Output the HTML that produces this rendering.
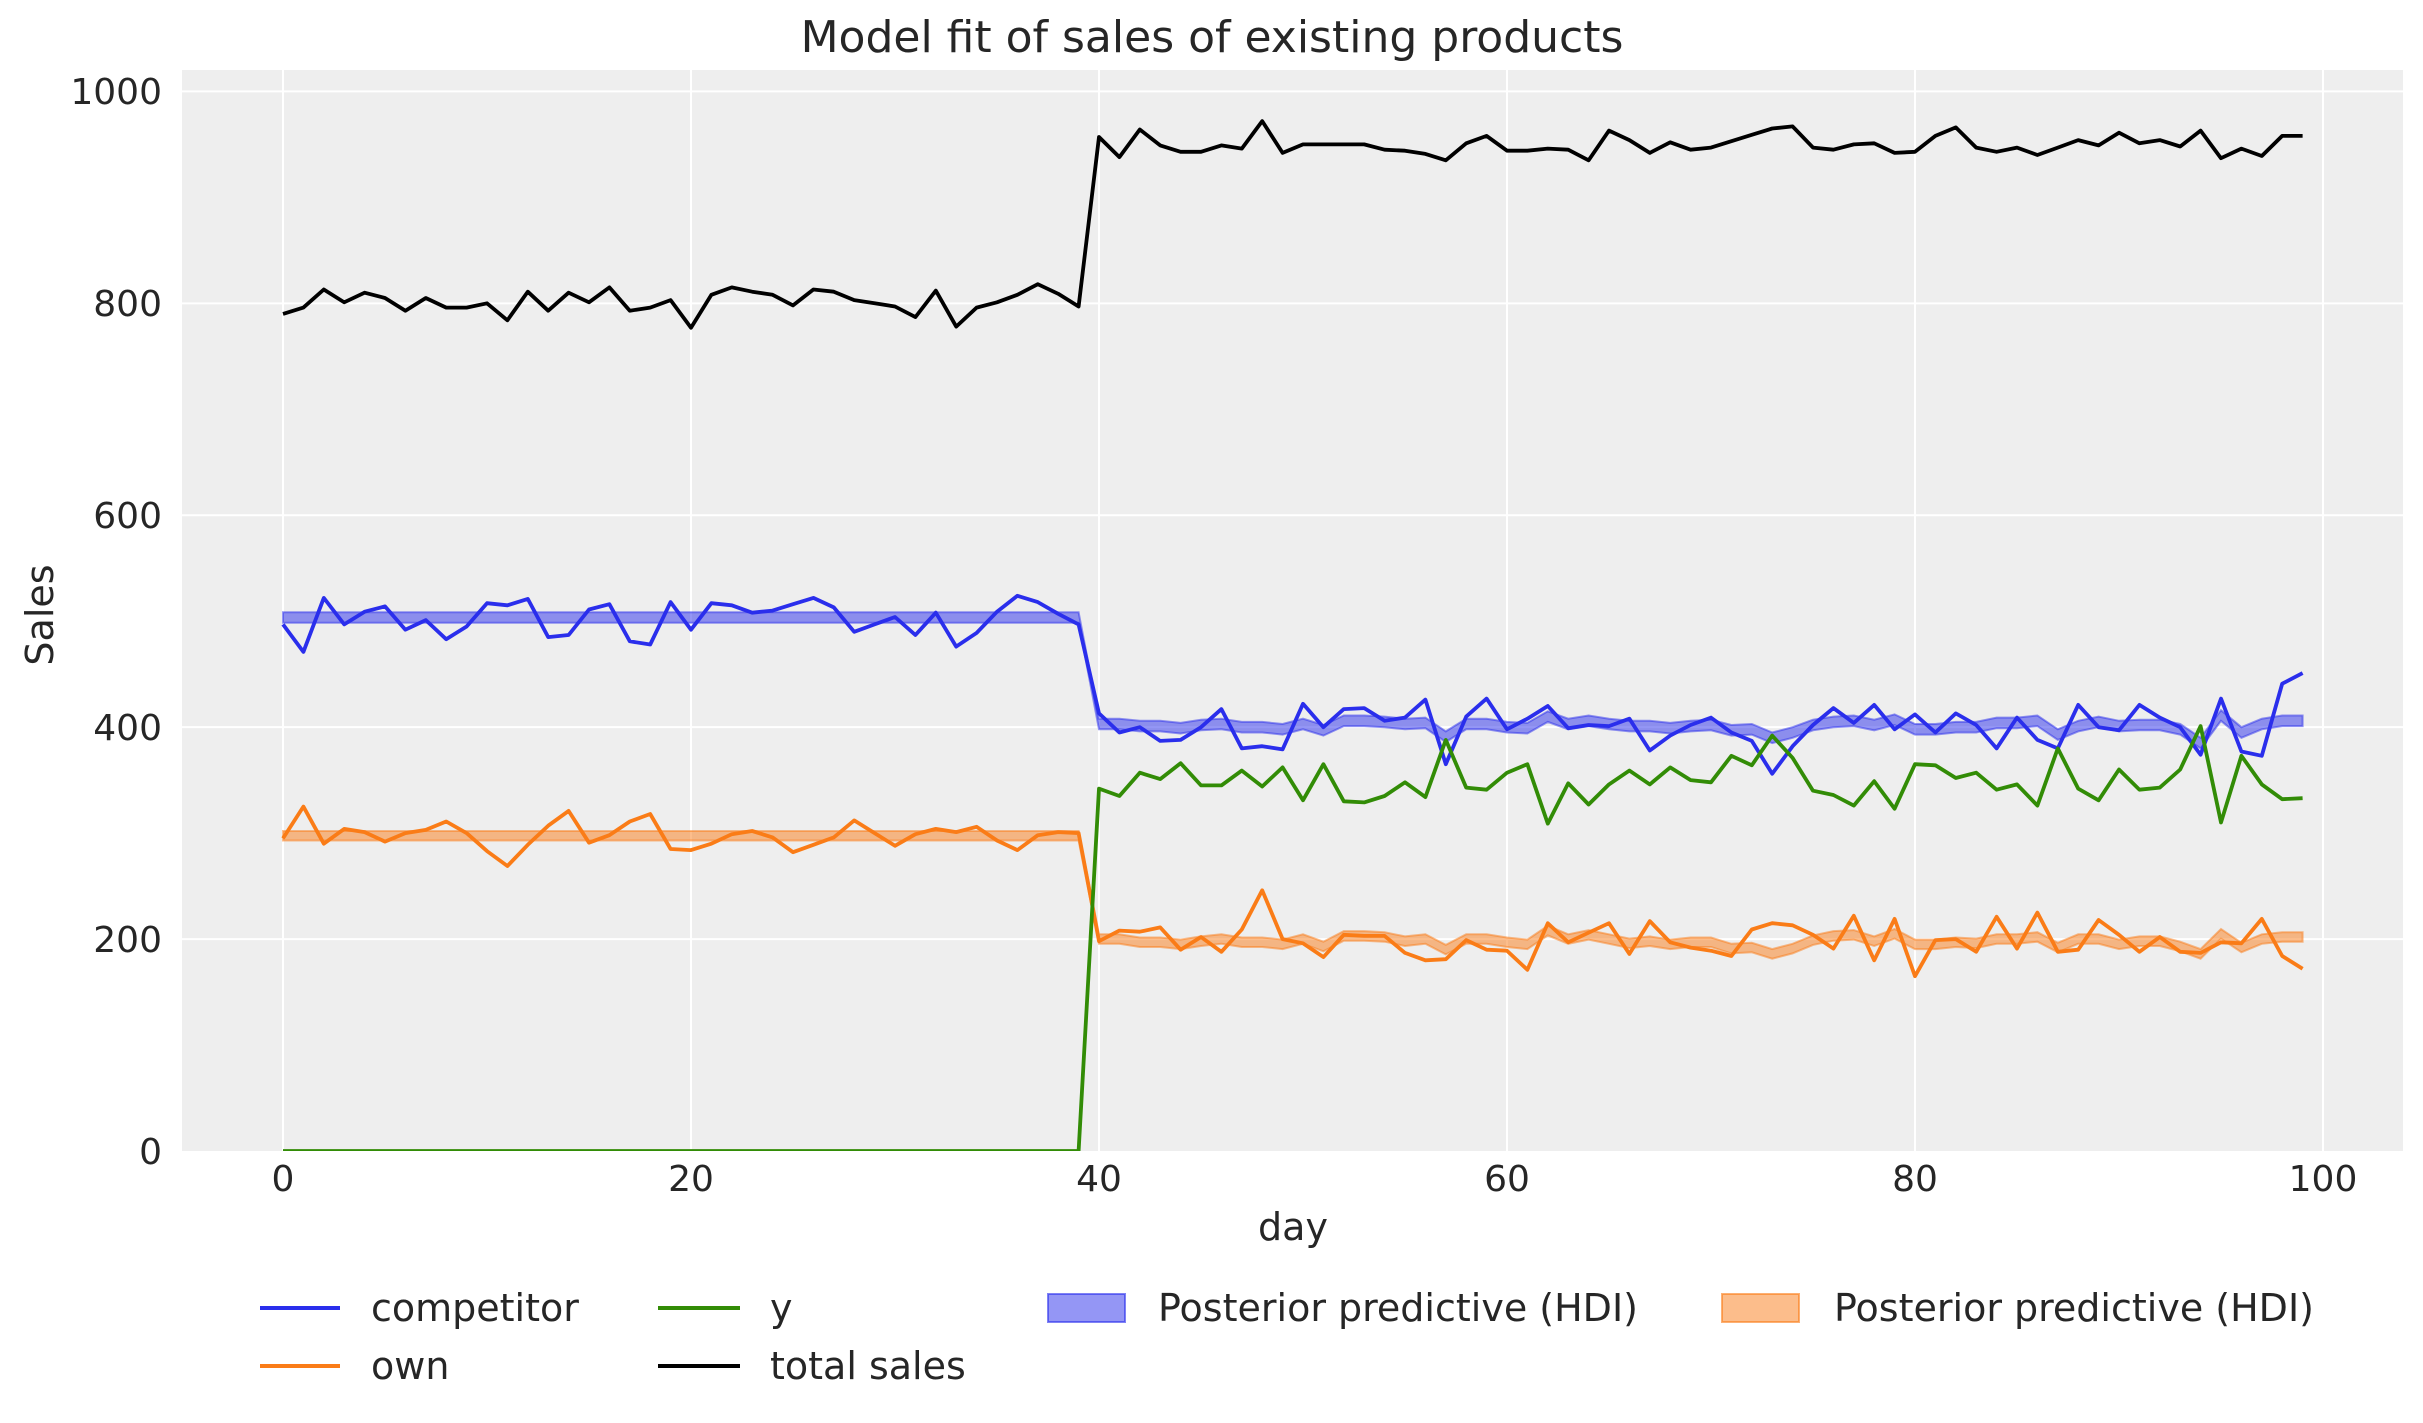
<!DOCTYPE html>
<html><head><meta charset="utf-8"><style>
html,body{margin:0;padding:0;background:#fff;}
svg{display:block;font-family:"DejaVu Sans","Liberation Sans",sans-serif;}
</style></head><body>
<svg id="s" width="2423" height="1423" viewBox="0 0 2423 1423" xmlns="http://www.w3.org/2000/svg">
<defs><clipPath id="ax"><rect x="182" y="70" width="2221" height="1081"/></clipPath></defs>
<rect x="182" y="70" width="2221" height="1081" fill="#eeeeee"/>
<g id="grid" stroke="#ffffff" stroke-width="2"></g>
<g id="series" clip-path="url(#ax)"></g>
<text x="1212" y="52" font-size="44" text-anchor="middle" fill="#262626">Model fit of sales of existing products</text>
<g font-size="36" fill="#262626" text-anchor="end">
<text x="162" y="104">1000</text><text x="162" y="316">800</text><text x="162" y="528">600</text><text x="162" y="740">400</text><text x="162" y="952">200</text><text x="162" y="1164">0</text>
</g>
<g font-size="36" fill="#262626" text-anchor="middle">
<text x="283" y="1191">0</text><text x="691" y="1191">20</text><text x="1099" y="1191">40</text><text x="1507" y="1191">60</text><text x="1915" y="1191">80</text><text x="2323" y="1191">100</text>
</g>
<text x="1293" y="1240" font-size="38" text-anchor="middle" fill="#262626">day</text>
<text transform="translate(53,615) rotate(-90)" font-size="38" text-anchor="middle" fill="#262626">Sales</text>
<g font-size="38" fill="#262626">
<line x1="260" y1="1308" x2="340" y2="1308" stroke="#2a2eec" stroke-width="4"/>
<text x="371" y="1321">competitor</text>
<line x1="260" y1="1366" x2="340" y2="1366" stroke="#fa7c17" stroke-width="4"/>
<text x="371" y="1379">own</text>
<line x1="658" y1="1308" x2="740" y2="1308" stroke="#328c06" stroke-width="4"/>
<text x="770" y="1321">y</text>
<line x1="658" y1="1366" x2="740" y2="1366" stroke="#000" stroke-width="4"/>
<text x="770" y="1379">total sales</text>
<rect x="1048" y="1294" width="77" height="28" fill="rgba(42,46,236,0.5)" stroke="rgba(42,46,236,0.6)" stroke-width="2"/>
<text x="1158" y="1321">Posterior predictive (HDI)</text>
<rect x="1722" y="1294" width="77" height="28" fill="rgba(250,124,23,0.5)" stroke="rgba(250,124,23,0.6)" stroke-width="2"/>
<text x="1834" y="1321">Posterior predictive (HDI)</text>
</g>
</svg>
<script>
var NS="http://www.w3.org/2000/svg";
function X(d){return 283+20.4*d;}
function Y(v){return 1151-1.0596*v;}
var g=document.getElementById('grid');
[0,20,40,60,80,100].forEach(function(d){var l=document.createElementNS(NS,'line');l.setAttribute('x1',X(d));l.setAttribute('x2',X(d));l.setAttribute('y1',70);l.setAttribute('y2',1151);g.appendChild(l);});
[200,400,600,800,1000].forEach(function(v){var l=document.createElementNS(NS,'line');l.setAttribute('x1',182);l.setAttribute('x2',2403);l.setAttribute('y1',Y(v));l.setAttribute('y2',Y(v));g.appendChild(l);});
var black=[790,796,813,801,810,805,793,805,796,796,800,784,811,793,810,801,815,793,796,803,777,808,815,811,808,798,813,811,803,800,797,787,812,778,796,801,808,818,809,797,957,938,964,949,943,943,949,946,972,942,950,950,950,950,945,944,941,935,951,958,944,944,946,945,935,963,954,942,952,945,947,953,959,965,967,947,945,950,951,942,943,958,966,947,943,947,940,947,954,949,961,951,954,948,963,937,946,939,958,958];
var blue=[497,471,522,497,509,514,492,501,483,495,517,515,521,485,487,511,516,481,478,518,492,517,515,508,510,516,522,513,490,497,504,487,508,476,489,509,524,518,507,497,413,395,400,387,388,400,417,380,382,379,422,400,417,418,406,409,426,365,410,427,398,408,420,399,402,401,408,378,392,402,409,395,387,356,382,402,418,404,421,398,412,395,413,402,380,409,388,380,421,400,397,421,409,400,374,427,377,373,441,451];
var green=[];for(var i=0;i<40;i++)green.push(0);
green=green.concat([342,335,357,351,366,345,345,359,344,362,331,365,330,329,335,348,334,388,343,341,357,365,309,347,327,346,359,346,362,350,348,373,364,392,371,340,336,326,349,323,365,364,352,357,341,346,326,380,342,331,360,341,343,360,401,310,373,346,332,333]);
var orange=[295,325,290,304,301,292,300,303,311,300,283,269,289,307,321,291,298,311,318,285,284,290,299,302,296,282,289,296,312,300,288,299,304,301,306,293,284,298,301,300,198,208,207,211,190,202,188,209,246,200,196,183,204,203,203,187,180,181,199,190,189,171,215,197,206,215,186,217,197,192,189,184,209,215,213,204,191,222,180,219,165,199,200,188,221,191,225,188,190,218,204,188,202,188,187,197,196,219,184,172];
var bb=[];for(var i=0;i<40;i++)bb.push(503.5);
var bbase=[403,403,401,401,399,402,403,400,400,398,403,397,406,406,405,403,404,391,403,403,400,399,410,403,406,403,401,401,399,401,402,397,398,390,395,402,405,406,402,407,398,398,400,400,404,404,406,393,401,405,401,402,402,398,385,411,395,403,406,406];
bb=bb.concat(bbase);
var ob=[];for(var i=0;i<40;i++)ob.push(297.5);
ob=ob.concat([200,200,197,197,195,198,200,197,197,195,200,193,203,203,202,198,200,190,200,200,197,195,208,200,204,200,196,198,195,197,197,191,192,186,191,199,203,204,198,205,195,195,197,196,200,200,202,192,200,200,195,198,198,193,186,205,192,200,202,202]);
var s=document.getElementById('series');
function band(c,w,col){var up=[],dn=[];for(var i=0;i<100;i++){up.push(X(i).toFixed(1)+','+Y(c[i]+w).toFixed(1));dn.unshift(X(i).toFixed(1)+','+Y(c[i]-w).toFixed(1));}
var p=document.createElementNS(NS,'polygon');p.setAttribute('points',up.concat(dn).join(' '));p.setAttribute('fill',col);p.setAttribute('fill-opacity','0.5');p.setAttribute('stroke',col);p.setAttribute('stroke-opacity','0.5');p.setAttribute('stroke-width','2');s.appendChild(p);}
function line(a,col){var pts=[];for(var i=0;i<a.length;i++)pts.push(X(i).toFixed(1)+','+Y(a[i]).toFixed(1));var p=document.createElementNS(NS,'polyline');p.setAttribute('points',pts.join(' '));p.setAttribute('fill','none');p.setAttribute('stroke',col);p.setAttribute('stroke-width','3.8');p.setAttribute('stroke-linejoin','round');s.appendChild(p);}
band(bb,5,'#2a2eec');band(ob,4.5,'#fa7c17');
line(blue,'#2a2eec');line(orange,'#fa7c17');line(green,'#328c06');line(black,'#000000');
</script>
</body></html>
